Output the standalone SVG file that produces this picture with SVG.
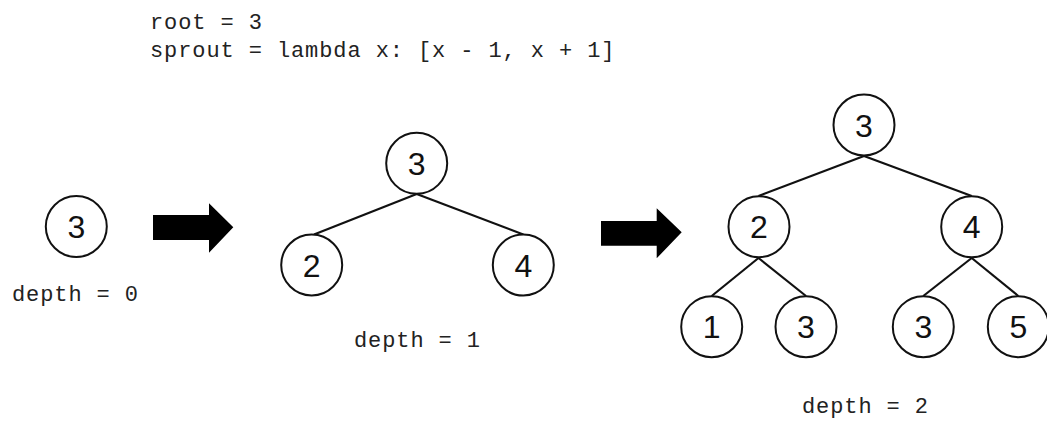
<svg xmlns="http://www.w3.org/2000/svg" width="1047" height="421" viewBox="0 0 1047 421">
<style>
.code{font-family:"Liberation Mono","DejaVu Sans Mono",monospace;font-size:22px;letter-spacing:0.9px;fill:#222}
.node circle{fill:#fff;stroke:#111;stroke-width:2}
.node text{font-family:"Liberation Sans",Arial,sans-serif;font-size:32px;fill:#111;text-anchor:middle}
#connectors line{stroke:#111;stroke-width:2.2}
.arrow{fill:#000}
</style>
<rect width="1047" height="421" fill="#fff"/>
<text class="code" x="150" y="28.5">root = 3</text>
<text class="code" x="150" y="57">sprout = lambda x: [x - 1, x + 1]</text>
<text class="code" x="12" y="301">depth = 0</text>
<text class="code" x="354" y="347">depth = 1</text>
<text class="code" x="802" y="413">depth = 2</text>
<polygon class="arrow" points="153,215 209,215 209,203.3 233.3,227.3 209,252.7 209,240 153,240"/>
<polygon class="arrow" points="601,221 656.7,221 656.7,208.3 681.7,232.3 656.7,258.3 656.7,245.7 601,245.7"/>
<g id="connectors">
<line x1="416.7" y1="194" x2="314" y2="234.5"/>
<line x1="416.7" y1="194" x2="523.3" y2="234.5"/>
<line x1="864" y1="156" x2="758.5" y2="196"/>
<line x1="864" y1="156" x2="971.7" y2="196"/>
<line x1="758.5" y1="258" x2="711.7" y2="296"/>
<line x1="758.5" y1="258" x2="806" y2="296"/>
<line x1="971.7" y1="258" x2="923.3" y2="296"/>
<line x1="971.7" y1="258" x2="1018.3" y2="296"/>
</g>
<g id="n0" class="node"><circle cx="76.3" cy="226.5" r="30.5"/><text x="76.3" y="238">3</text></g>
<g id="n1r" class="node"><circle cx="416.7" cy="163.3" r="30.5"/><text x="416.7" y="174.8">3</text></g>
<g id="n1a" class="node"><circle cx="311.7" cy="265" r="30.5"/><text x="311.7" y="276.5">2</text></g>
<g id="n1b" class="node"><circle cx="523.3" cy="265" r="30.5"/><text x="523.3" y="276.5">4</text></g>
<g id="n2r" class="node"><circle cx="864" cy="125" r="30.5"/><text x="864" y="136.5">3</text></g>
<g id="n2a" class="node"><circle cx="759" cy="226.7" r="30.5"/><text x="759" y="238.2">2</text></g>
<g id="n2b" class="node"><circle cx="971.7" cy="226.7" r="30.5"/><text x="971.7" y="238.2">4</text></g>
<g id="n2c" class="node"><circle cx="711.7" cy="326.7" r="30.5"/><text x="711.7" y="338.2">1</text></g>
<g id="n2d" class="node"><circle cx="806" cy="326.7" r="30.5"/><text x="806" y="338.2">3</text></g>
<g id="n2e" class="node"><circle cx="923.3" cy="326.7" r="30.5"/><text x="923.3" y="338.2">3</text></g>
<g id="n2f" class="node"><circle cx="1018.3" cy="326.7" r="30.5"/><text x="1018.3" y="338.2">5</text></g>
</svg>
